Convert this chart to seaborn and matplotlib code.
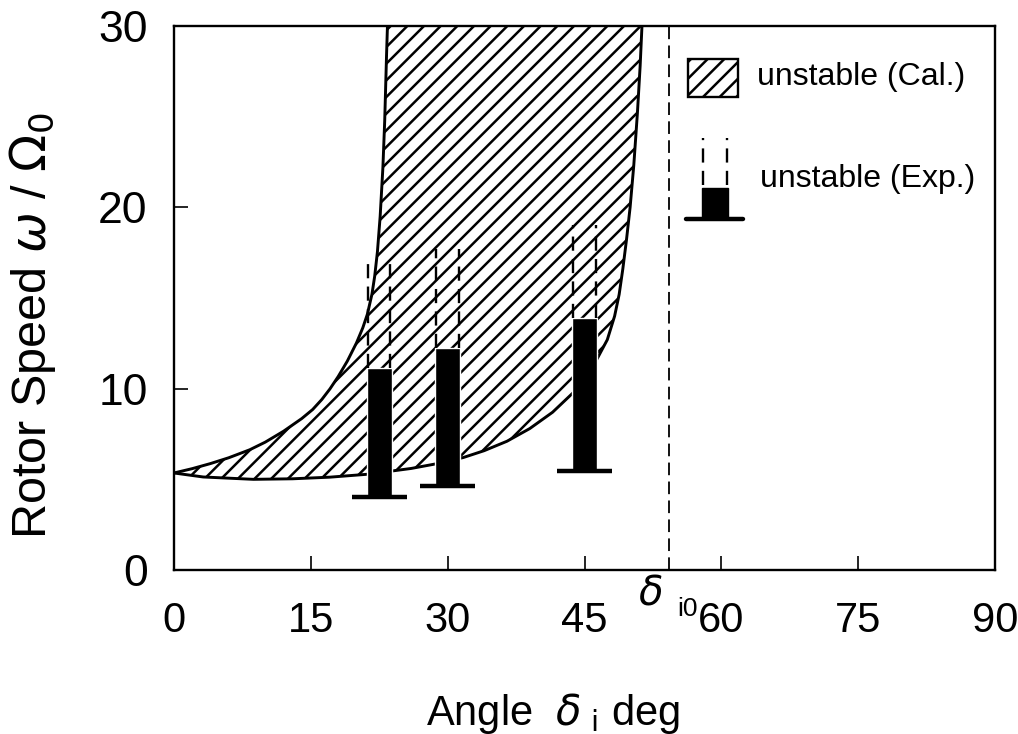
import matplotlib
matplotlib.use("Agg")
import matplotlib.pyplot as plt
import matplotlib.transforms as mtransforms
from matplotlib.patches import Rectangle
from matplotlib.lines import Line2D
import seaborn as sns

# ---------------- data ----------------
# calculated unstable region: left (upper) boundary and right (lower) boundary
upper_x = [0, 2, 4, 6, 8.3, 10, 12, 14, 15.2, 16.2, 17.1, 18, 19, 20, 20.7,
           21.2, 21.7, 22.0, 22.3, 22.6, 22.9, 23.1, 23.3, 23.4]
upper_y = [5.35, 5.59, 5.87, 6.19, 6.63, 7.05, 7.65, 8.35, 8.85, 9.4, 9.99,
           10.67, 11.52, 12.52, 13.36, 14.11, 15.21, 16.2, 17.55, 19.5, 22.2,
           24.8, 28.4, 30.0]
lower_x = [0, 3.2, 8.7, 13, 17.1, 21.2, 26, 29, 31.7, 34, 36.5, 39, 41.5,
           43.7, 45.7, 47.5, 48.3, 48.8, 49.2, 49.6, 50.0, 50.4, 50.8, 51.1,
           51.3]
lower_y = [5.35, 5.13, 5.0, 5.03, 5.12, 5.28, 5.6, 5.88, 6.2, 6.58, 7.1, 7.8,
           8.7, 9.75, 11.0, 12.7, 14.0, 15.2, 16.6, 18.2, 20.0, 22.3, 25.2,
           27.8, 30.0]

# experimental unstable ranges
exp_angle = [22.5, 30.0, 45.0]
exp_base = [4.05, 4.65, 5.45]
exp_top = [11.15, 12.25, 13.9]
exp_dash_top = [17.0, 17.7, 19.0]

delta_i0 = 54.3

x_ticks = [0, 15, 30, 45, 60, 75, 90]
y_ticks = [0, 10, 20, 30]

# ---------------- style ----------------
sns.set_style("ticks")
plt.rcParams["font.family"] = ["Liberation Sans", "DejaVu Sans"]
plt.rcParams["hatch.linewidth"] = 1.8
plt.rcParams["mathtext.fontset"] = "dejavusans"
for k in ("text.color", "axes.labelcolor", "xtick.color", "ytick.color",
          "axes.edgecolor"):
    plt.rcParams[k] = "black"

fig = plt.figure(figsize=(10.18, 7.34), dpi=100)
ax = fig.add_axes([174 / 1018, 1 - 570 / 734, 821 / 1018, 544 / 734])

# hatched region
poly_x = upper_x + lower_x[::-1]
poly_y = upper_y + lower_y[::-1]
ax.fill(poly_x, poly_y, facecolor="white", edgecolor="black", hatch="//",
        linewidth=0, zorder=1)
sns.lineplot(x=upper_x, y=upper_y, ax=ax, color="black", linewidth=2.1,
             sort=False, zorder=2)
sns.lineplot(x=lower_x, y=lower_y, ax=ax, color="black", linewidth=2.1,
             sort=False, zorder=2)

# experimental bars
bar_w = 2.75
heights = [t - b for t, b in zip(exp_top, exp_base)]
ax.bar(exp_angle, heights, bottom=exp_base, width=bar_w, color="black",
       zorder=4)
for xa, b, t, dt in zip(exp_angle, exp_base, exp_top, exp_dash_top):
    ax.vlines([xa - bar_w / 2 + 0.15, xa + bar_w / 2 - 0.15], t, dt,
              colors="black", linestyles=(0, (6, 3.5)), linewidth=1.7,
              zorder=4)
    ax.hlines(b, xa - 3.0, xa + 3.0, colors="black", linewidth=3.2, zorder=4)

# critical angle line
ax.axvline(delta_i0, color="black", linestyle=(0, (7, 3.5)), linewidth=1.3,
           zorder=3)

ax.set_xlim(0, 90)
ax.set_ylim(0, 30)
ax.set_xticks(x_ticks)
ax.set_yticks(y_ticks)
ax.tick_params(direction="in", length=10, width=1.2, top=False, right=False)
ax.tick_params(axis="x", pad=22, labelsize=30)
ax.tick_params(axis="y", pad=19, labelsize=32)
for s in ax.spines.values():
    s.set_linewidth(1.7)
    s.set_visible(True)

ax.set_xlabel(r"Angle  $\delta_{\ \mathrm{i}}$ deg", fontsize=30)
ax.xaxis.set_label_coords(0.4616, -0.285)
ax.xaxis.label.set_va("baseline")
ax.set_ylabel(r"Rotor Speed $\omega$ / $\Omega_0$", fontsize=35)
ax.yaxis.label.set_va("center")
ax.yaxis.set_label_coords(-0.172, 0.45)

# delta_i0 annotation under the axis
trans = mtransforms.blended_transform_factory(ax.transData, ax.transAxes)
ax.text(delta_i0 - 2.1, -0.044, r"$\delta$", transform=trans, fontsize=29,
        ha="center", va="center")
ax.text(delta_i0 + 2.0, -0.071, "i0", transform=trans, fontsize=19,
        ha="center", va="center")

# manual legend (axes fraction)
ax.add_patch(Rectangle((0.626, 0.8695), 0.061, 0.0695, transform=ax.transAxes,
                       facecolor="white", edgecolor="black", hatch="//",
                       linewidth=1.7, zorder=5))
ax.text(0.710, 0.906, "unstable (Cal.)", transform=ax.transAxes, fontsize=23,
        ha="left", va="center")
for xl in (0.644, 0.674):
    ax.add_line(Line2D([xl, xl], [0.708, 0.794], transform=ax.transAxes,
                       color="black", linestyle=(0, (6, 3.5)), linewidth=1.7))
ax.add_patch(Rectangle((0.643, 0.649), 0.032, 0.053, transform=ax.transAxes,
                       facecolor="black", edgecolor="black", zorder=5))
ax.add_line(Line2D([0.624, 0.693], [0.645, 0.645], transform=ax.transAxes,
                   color="black", linewidth=3.2))
ax.text(0.714, 0.719, "unstable (Exp.)", transform=ax.transAxes, fontsize=23,
        ha="left", va="center")

fig.savefig("out.png", dpi=100)
